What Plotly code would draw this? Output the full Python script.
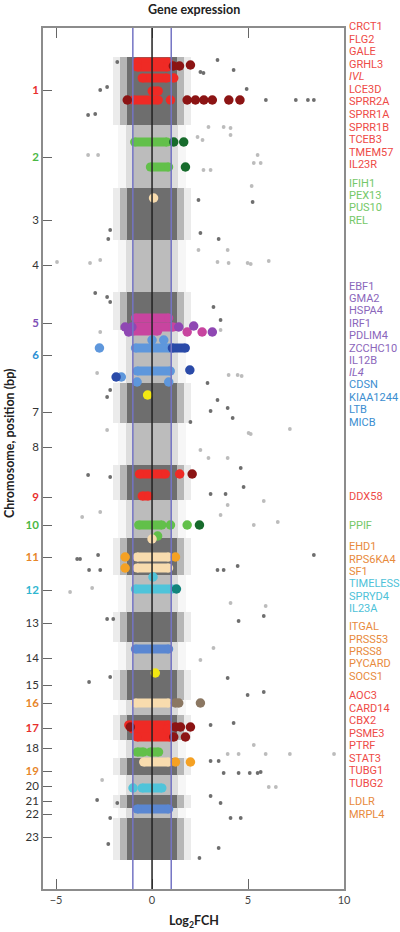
import plotly.graph_objects as go

# ---------------- data ----------------
# chromosome bands (genome position units, 0 = top of panel)
chrom_names = [str(i) for i in range(1, 24)]
chrom_start = [29, 97, 160, 212, 264, 302, 355, 395, 437, 472, 510, 547, 584, 614, 642, 672, 687, 712, 730, 747, 767, 780, 790]
chrom_end = [97, 160, 212, 264, 302, 355, 395, 437, 472, 510, 547, 584, 614, 642, 672, 687, 712, 730, 747, 767, 780, 790, 832]
tick_pos = [62, 129, 192, 237, 295, 327, 384, 419, 469, 497, 529, 562, 595, 630, 657, 675, 700, 720, 743, 758, 773, 786, 809]

# dense-core spread of log2FCH per band
core_half = [1.3, 1.0, 1.3, 1.0, 1.3, 1.0, 1.3, 1.0, 1.3, 1.0, 1.3, 1.0, 1.3, 1.0, 1.3, 1.0, 1.3, 1.0, 1.3, 1.0, 1.3, 1.0, 1.3]

# scattered genes outside the dense cores (log2FCH, position)
out_x = [-1.81, 3.41, 4.25, 2.52, 2.68, 4.93, -2.70, -2.34, -3.33, -2.96, 5.93, 7.49, 8.12, 8.43,
         2.94, 3.73, 4.09, 4.09, 2.37, 2.63, -3.33, -2.81, 5.50, 5.30, 5.66, 2.68, 3.05, 5.19, 5.24, 2.42,
         -2.18, -2.28, 3.47, 2.52,
         -4.95, -2.70, -3.23, 3.41, 3.99, 4.98, 5.14, 6.08, 2.42, 3.94,
         -2.96, -2.34, -2.18, 3.20, 3.57, -2.70, 3.57,
         -2.86, 3.99, 4.46, 2.89, 4.67, 3.41, 3.94, 3.05, -2.34, -2.18, 2.00, 4.20,
         -2.34, 5.03, 7.18, 2.52, 2.94, 3.94, 5.14,
         4.62, -3.33, -2.18, 4.77, 3.05, 3.83, 5.82,
         -3.64, -2.70, 3.57, 6.55, 5.30, 3.94,
         -3.75, -3.90, -2.81, -3.28, -2.70, 8.43, 4.46, 3.41, 3.73,
         -4.27, -3.12, 4.09, 5.92, 5.82,
         -2.34, -2.02, 4.51,
         3.20, 2.52,
         -3.28, 3.94, 4.98, 5.82, -2.18,
         4.25, 3.05,
         5.30, 3.94, 4.51, 5.92, 7.18, 9.48,
         3.05, 3.47, 3.73, 4.51, 5.09, 5.50, 5.66,
         -2.60, 6.08, 6.45,
         -2.86, -1.81, 3.05, 3.57, 4.09, 4.62, -2.18,
         -2.28, 3.47, 2.47]
out_y = [34, 32, 42, 44, 45, 61, 62, 59, 87, 86, 72, 72, 72, 72,
         99, 99, 100, 107, 109, 112, 127, 127, 127, 135, 135, 142, 142, 158, 174, 172,
         202, 211, 211, 205,
         234, 232, 235, 234, 235, 235, 236, 233, 222, 222,
         265, 269, 274, 279, 292, 304, 302,
         345, 347, 347, 355, 348, 372, 380, 383, 369, 362, 394, 390,
         402, 405, 401, 422, 430, 430, 406,
         440, 447, 449, 459, 466, 466, 473,
         489, 484, 487, 494, 497, 477,
         531, 531, 527, 542, 542, 527, 538, 542, 542,
         564, 560, 575, 578, 588,
         591, 591, 593,
         620, 632,
         654, 650, 667, 664, 649,
         695, 697,
         717, 726, 726, 726, 726, 726,
         733, 733, 745, 745, 745, 745, 744,
         752, 759, 759,
         772, 775, 768, 775, 790, 790, 790,
         816, 820, 830]

# highlighted gene clusters drawn as runs: (group, position, log2FCH from, log2FCH to)
run_group = ["red", "red", "red", "red", "red", "red", "red", "red", "red", "red",
             "green", "green", "green", "green", "green",
             "peach", "peach", "peach", "peach",
             "magenta", "magenta", "magenta",
             "lblue", "lblue", "dblue",
             "cyan", "cyan", "blue", "blue"]
run_pos = [34, 39, 50, 63, 72, 446, 468, 697, 701, 709,
           114, 139, 497, 724, 724,
           529, 540, 675, 734,
           290, 299, 303,
           320, 343, 320,
           561, 760, 621, 781]
run_from = [-0.77, -0.77, -0.52, 0.0, -0.98, -0.66, -0.52, -1.22, -1.0, -0.78,
            -0.91, -0.09, -0.70, -0.78, -0.09,
            -0.78, -0.78, -0.87, -0.44,
            -0.87, -0.98, -1.0,
            -0.87, -0.78, 1.05,
            -0.87, -0.52, -0.87, -0.78]
run_to = [0.85, 0.80, 0.78, 0.33, 0.33, 0.70, -0.18, 0.87, 0.80, 0.96,
          0.78, 0.87, 0.52, -0.44, 0.35,
          0.87, 0.87, 0.87, 0.87,
          0.87, 1.11, 0.30,
          0.96, 0.96, 1.74,
          1.05, 0.52, 0.87, 0.87]

# individual highlighted genes: (group, log2FCH, position)
dot_group = ["red", "red", "red",
             "dred", "dred", "dred", "dred", "dred", "dred", "dred", "dred", "dred", "dred", "dred",
             "dred", "dred", "dred", "dred", "dred", "dred",
             "green", "green", "green",
             "dgreen", "dgreen", "dgreen", "dgreen",
             "peach", "peach",
             "orange", "orange", "orange", "orange", "orange",
             "magenta", "magenta",
             "purple", "purple", "purple", "purple", "purple", "purple",
             "lblue", "lblue", "lblue", "lblue", "lblue", "lblue",
             "dblue", "dblue",
             "yellow", "yellow",
             "cyan", "cyan", "teal",
             "brown", "brown", "brown"]
dot_x = [1.13, 0.96, 1.44,
         1.11, 1.43, 2.00, -1.29, 1.83, 2.26, 2.70, 3.14, 4.00, 4.58, 2.09,
         -1.13, 1.22, 1.48, 2.00, 1.13, 1.74,
         0.96, 1.83, 0.29,
         1.13, 1.65, 1.74, 2.47,
         0.08, 0.0,
         -1.40, 1.22, -1.40, 1.22, 2.00,
         1.83, 2.61,
         -1.40, -1.05, 1.39, 2.17, 3.14, -1.22,
         0.0, 0.61, -2.74, -1.60, -0.78, 0.87,
         1.97, -1.87,
         -0.23, 0.17,
         0.05, -0.99, 1.27,
         1.22, 1.39, 2.52]
dot_y = [50, 72, 446,
         38, 38, 37, 72, 72, 72, 72, 72, 72, 72, 446,
         699, 699, 699, 699, 709, 709,
         497, 497, 508,
         114, 114, 139, 497,
         170, 511,
         529, 529, 540, 734, 734,
         304, 304,
         299, 299, 299, 298, 304, 304,
         312, 312, 320, 349, 354, 354,
         342, 349,
         367, 645,
         549, 760, 561,
         675, 675, 675]

# gene labels on the right
label_groups = [
    ("red", ["CRCT1", "FLG2", "GALE", "GRHL3", "<i>IVL</i>", "LCE3D", "SPRR2A", "SPRR1A", "SPRR1B", "TCEB3", "TMEM57", "IL23R"], -1.3, 12.55),
    ("green", ["IFIH1", "PEX13", "PUS10", "REL"], 155.3, 12.3),
    ("purple", ["EBF1", "GMA2", "HSPA4", "IRF1", "PDLIM4", "ZCCHC10", "IL12B", "<i>IL4</i>"], 258.0, 12.4),
    ("blue", ["CDSN", "KIAA1244", "LTB", "MICB"], 357.0, 12.4),
    ("red", ["DDX58"], 468.0, 12.4),
    ("green", ["PPIF"], 497.0, 12.4),
    ("orange", ["EHD1", "RPS6KA4", "SF1"], 518.7, 12.5),
    ("cyan", ["TIMELESS", "SPRYD4", "IL23A"], 555.5, 12.5),
    ("orange", ["ITGAL", "PRSS53", "PRSS8", "PYCARD", "SOCS1"], 598.7, 12.4),
    ("red", ["AOC3", "CARD14", "CBX2", "PSME3", "PTRF", "STAT3", "TUBG1", "TUBG2"], 667.7, 12.5),
    ("orange", ["LDLR", "MRPL4"], 773.7, 12.4),
]

tick_colors = {"1": "red", "2": "green", "5": "purple", "6": "blue", "9": "red", "10": "green",
               "11": "orange", "12": "cyan", "16": "orange", "17": "red", "19": "orange"}

# ---------------- styles ----------------
mark_col = {"red": "#ef2a25", "dred": "#8c1414", "green": "#62c04a", "dgreen": "#176b2c",
            "peach": "#f8dcae", "orange": "#f5a123", "magenta": "#c8449f", "purple": "#8f47b3",
            "lblue": "#5e97dc", "dblue": "#2a4aa8", "yellow": "#f3e812", "cyan": "#4fc4da",
            "teal": "#12847c", "blue": "#5a87d2", "brown": "#8b7762"}
text_col = {"red": "#ee4a46", "green": "#74c868", "purple": "#8b66bb", "blue": "#3b8ed0",
            "orange": "#e88a3c", "cyan": "#4ec2d8"}
tick_text_col = {"red": "#e8302c", "green": "#4bb845", "purple": "#7e4fb6", "blue": "#2b8fd3",
                 "orange": "#e7862a", "cyan": "#2fb6d0"}
DARK = "#6e6e6e"
LIGHT = "#bcbcbc"
FONT = "Lato, Open Sans, sans-serif"
NARROW = "Roboto, Lato, sans-serif"
Y_SPAN = 861.0  # vertical extent of the axis range

fig = go.Figure()

# gray density bands: outer fringe, mid fringe, core
for spread, op in [(0.75, 0.13), (0.35, 0.42), (0.0, 1.0)]:
    for shade in (0, 1):
        idx = [i for i in range(len(chrom_names)) if i % 2 == shade]
        col = DARK if shade == 0 else LIGHT
        fig.add_trace(go.Bar(
            orientation="h",
            y=[(chrom_start[i] + chrom_end[i]) / 2 for i in idx],
            width=[chrom_end[i] - chrom_start[i] for i in idx],
            base=[-(core_half[i] + spread) for i in idx],
            x=[2 * (core_half[i] + spread) for i in idx],
            marker=dict(color=col, line=dict(width=0)),
            opacity=op, showlegend=False, hoverinfo="skip"))


def band_color(y):
    for i in range(len(chrom_names)):
        if chrom_start[i] <= y < chrom_end[i]:
            return DARK if i % 2 == 0 else LIGHT
    return DARK


fig.add_trace(go.Scatter(
    x=out_x, y=out_y, mode="markers",
    marker=dict(size=3.8, color=[band_color(v) for v in out_y], line=dict(width=0)),
    showlegend=False, hoverinfo="skip"))

# highlighted runs
for g in dict.fromkeys(run_group):
    xs, ys = [], []
    for gg, p, a, b in zip(run_group, run_pos, run_from, run_to):
        if gg == g:
            xs += [a, b, None]
            ys += [p, p, None]
    fig.add_trace(go.Scatter(
        x=xs, y=ys, mode="lines+markers",
        line=dict(color=mark_col[g], width=9),
        marker=dict(size=9, color=mark_col[g]),
        showlegend=False, hoverinfo="skip"))

# highlighted single genes
for g in dict.fromkeys(dot_group):
    xs = [x for gg, x in zip(dot_group, dot_x) if gg == g]
    ys = [y for gg, y in zip(dot_group, dot_y) if gg == g]
    fig.add_trace(go.Scatter(
        x=xs, y=ys, mode="markers",
        marker=dict(size=9.5, color=mark_col[g], line=dict(width=0)),
        showlegend=False, hoverinfo="skip"))

# threshold lines
for xv, col in [(-1, "#7474c4"), (1, "#7474c4"), (0, "#222222")]:
    fig.add_shape(type="line", xref="x", yref="paper", x0=xv, x1=xv, y0=0, y1=1,
                  line=dict(color=col, width=1.5), layer="above")

# gene labels (paper coords so labels just above the panel are still drawn)
annotations = []
for g, names, start, step in label_groups:
    for k, n in enumerate(names):
        annotations.append(dict(
            xref="paper", yref="paper", x=1, xshift=3, y=1 - (start + k * step) / Y_SPAN,
            text=n, showarrow=False, xanchor="left", yanchor="middle",
            font=dict(family=NARROW, size=11, color=text_col[g])))

annotations.append(dict(xref="paper", yref="paper", x=0.5, y=1.021, text="<b>Gene expression</b>",
                        showarrow=False, xanchor="center", yanchor="middle",
                        font=dict(family=FONT, size=12.5, color="#222")))
annotations.append(dict(xref="paper", yref="paper", x=-0.113, y=0.518,
                        text="<b>Chromosome, position (bp)</b>", textangle=-90,
                        showarrow=False, xanchor="center", yanchor="middle",
                        font=dict(family=FONT, size=12.5, color="#222")))
annotations.append(dict(xref="paper", yref="paper", x=0.5, y=-0.038,
                        text="<b>Log<sub>2</sub>FCH</b>",
                        showarrow=False, xanchor="center", yanchor="middle",
                        font=dict(family=FONT, size=12.5, color="#222")))

ticktext = []
for n in chrom_names:
    if n in tick_colors:
        ticktext.append(f'<span style="color:{tick_text_col[tick_colors[n]]}"><b>{n}</b></span>')
    else:
        ticktext.append(n)

fig.update_layout(
    width=400, height=932,
    margin=dict(l=43, r=56, t=28, b=43, autoexpand=False),
    plot_bgcolor="white", paper_bgcolor="white",
    barmode="overlay", bargap=0,
    annotations=annotations,
    font=dict(family=FONT, color="#333"),
    xaxis=dict(range=[-5.68, 10], tickvals=[-5, 0, 5, 10], ticktext=["\u22125", "0", "5", "10"],
               ticks="inside", ticklen=10, tickwidth=1.3, tickcolor="#666",
               showline=True, linecolor="#8c8c8c", linewidth=1.5, mirror="ticks",
               showgrid=False, zeroline=False, tickfont=dict(size=11, color="#444")),
    yaxis=dict(range=[Y_SPAN, 0], tickvals=tick_pos, ticktext=ticktext,
               ticks="inside", ticklen=9, tickwidth=1.3, tickcolor="#666",
               showline=True, linecolor="#8c8c8c", linewidth=1.5, mirror=True,
               showgrid=False, zeroline=False, tickfont=dict(size=11.5, color="#333")),
)

# remove the page's default body margin so the figure sits at the window origin
fig.write_html("out.html", config={"displayModeBar": False},
               post_script="document.body.style.margin='0';")
